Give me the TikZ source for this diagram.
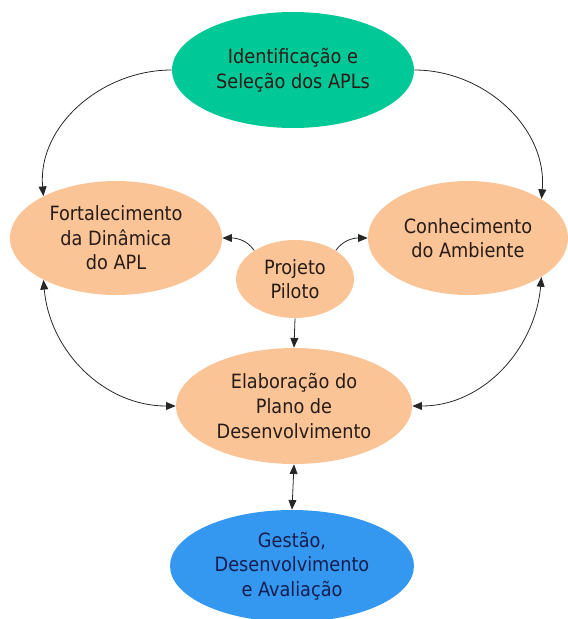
\documentclass[tikz,border=0pt]{standalone}
\usepackage{fontspec}
\setmainfont{DejaVu Sans Condensed}
\usetikzlibrary{shapes.geometric,arrows.meta}

\definecolor{verde}{RGB}{0,200,150}
\definecolor{laranja}{RGB}{250,196,150}
\definecolor{azul}{RGB}{52,152,240}
\definecolor{textoesc}{RGB}{40,28,24}
\definecolor{textoazul}{RGB}{22,30,80}

\tikzset{
  etapa/.style={ellipse, fill=laranja, draw=none, inner sep=0pt, align=center,
    text=textoesc, font=\fontsize{11.2}{14}\selectfont},
  seta/.style={-{Triangle[length=5.5pt,width=4.5pt]}, line width=0.45pt, draw=black!85},
  dupla/.style={{Triangle[length=5.5pt,width=4.5pt]}-{Triangle[length=5.5pt,width=4.5pt]},
    line width=0.45pt, draw=black!85},
}

\begin{document}
\begin{tikzpicture}[x=0.02cm, y=-0.02cm]
  \useasboundingbox (0,0) rectangle (568,619);

  % ETAPAS
  % topo
  \node[etapa, fill=verde, minimum width=4.84cm, minimum height=2.32cm]
    (ident) at (293,70) {Identificação e\\Seleção dos APLs};
  % lados
  \node[etapa, minimum width=4.24cm, minimum height=2.28cm]
    (forta) at (116,238) {Fortalecimento\\da Dinâmica\\do APL};
  \node[etapa, minimum width=4.0cm, minimum height=2.28cm]
    (conhe) at (468,238) {Conhecimento\\do Ambiente};
  % centro
  \node[etapa, minimum width=2.36cm, minimum height=1.56cm]
    (piloto) at (295,279) {Projeto\\Piloto};
  \node[etapa, minimum width=4.72cm, minimum height=2.32cm]
    (elab) at (294,406) {Elaboração do\\Plano de\\Desenvolvimento};
  % base
  \node[etapa, fill=azul, text=textoazul, minimum width=4.88cm, minimum height=2.24cm]
    (gestao) at (292,566) {Gestão,\\Desenvolvimento\\e Avaliação};

  % SETAS
  \draw[seta] (ident.west) to[out=180, in=95] (forta.150);
  \draw[seta] (ident.east) to[out=0, in=85] (conhe.28);
  \draw[seta] (piloto.145) to[out=125, in=0] (forta.east);
  \draw[seta] (piloto.35) to[out=55, in=180] (conhe.west);
  \draw[seta] (piloto.south) -- (elab.north);
  \draw[dupla] (forta.210) to[out=-85, in=180] (elab.west);
  \draw[dupla] (conhe.-28) to[out=-95, in=0] (elab.east);
  \draw[dupla] (elab.south) -- (gestao.north);
\end{tikzpicture}
\end{document}
